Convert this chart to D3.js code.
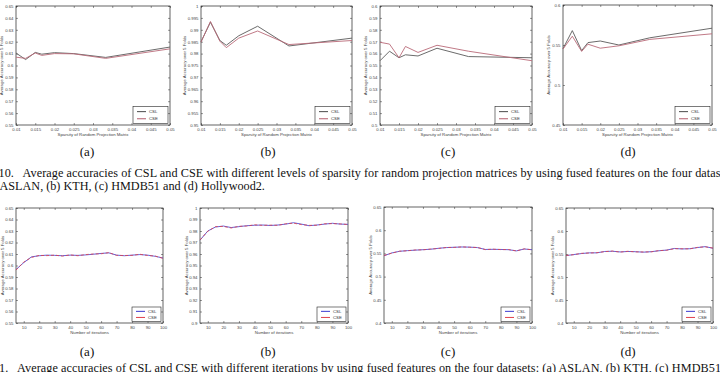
<!DOCTYPE html>
<html>
<head>
<meta charset="utf-8">
<script src="https://cdn.jsdelivr.net/npm/d3@7"></script>
<style>
  body { margin: 0; background: #fff; }
  svg { display: block; }
  .tick text { font-family: "Liberation Sans", Arial, sans-serif; fill: #444; }
</style>
</head>
<body>
<svg width="720" height="372"></svg>
<script>
// ---- data: sparsity experiments (top row) ----
let sparsity = [0.01, 0.0125, 0.015, 0.0167, 0.02, 0.025, 0.0333, 0.05];
let sparsityTicks = [0.01, 0.015, 0.02, 0.025, 0.03, 0.035, 0.04, 0.045, 0.05];

let aslanSparseCSL = [0.6105, 0.6050, 0.6110, 0.6095, 0.6108, 0.6100, 0.6068, 0.6155];
let aslanSparseCSE = [0.6070, 0.6060, 0.6105, 0.6085, 0.6100, 0.6098, 0.6060, 0.6140];
let kthSparseCSL = [0.9850, 0.9932, 0.9855, 0.9835, 0.9875, 0.9915, 0.9832, 0.9865];
let kthSparseCSE = [0.9848, 0.9935, 0.9852, 0.9825, 0.9865, 0.9895, 0.9838, 0.9855];
let hmdbSparseCSL = [0.5540, 0.5620, 0.5565, 0.5590, 0.5580, 0.5645, 0.5575, 0.5565];
let hmdbSparseCSE = [0.5695, 0.5680, 0.5565, 0.5660, 0.5610, 0.5670, 0.5620, 0.5540];
let hollySparseCSL = [0.5454, 0.5680, 0.5430, 0.5530, 0.5550, 0.5500, 0.5590, 0.5710];
let hollySparseCSE = [0.5450, 0.5610, 0.5420, 0.5510, 0.5460, 0.5490, 0.5570, 0.5640];

// ---- data: iteration experiments (bottom row) ----
let iterations = [5, 10, 15, 20, 25, 30, 35, 40, 45, 50, 55, 60, 65, 70, 75, 80, 85, 90, 95, 100];
let iterTicks = [10, 20, 30, 40, 50, 60, 70, 80, 90, 100];

let aslanIterCSL = [0.5965, 0.6025, 0.6075, 0.6085, 0.6090, 0.6088, 0.6085, 0.6090, 0.6088, 0.6092,
                    0.6098, 0.6105, 0.6110, 0.6090, 0.6085, 0.6090, 0.6095, 0.6090, 0.6080, 0.6065];
let aslanIterCSE = [0.5960, 0.6030, 0.6070, 0.6088, 0.6086, 0.6090, 0.6082, 0.6092, 0.6085, 0.6095,
                    0.6100, 0.6102, 0.6112, 0.6088, 0.6087, 0.6088, 0.6098, 0.6087, 0.6082, 0.6062];
let kthIterCSL = [0.9720, 0.9800, 0.9835, 0.9843, 0.9830, 0.9838, 0.9846, 0.9850, 0.9852, 0.9848,
                  0.9852, 0.9860, 0.9872, 0.9860, 0.9846, 0.9852, 0.9860, 0.9867, 0.9860, 0.9858];
let kthIterCSE = [0.9722, 0.9798, 0.9838, 0.9840, 0.9826, 0.9841, 0.9843, 0.9854, 0.9849, 0.9851,
                  0.9849, 0.9863, 0.9868, 0.9856, 0.9849, 0.9850, 0.9863, 0.9864, 0.9862, 0.9856];
let hmdbIterCSL = [0.5450, 0.5510, 0.5545, 0.5560, 0.5570, 0.5580, 0.5590, 0.5610, 0.5625, 0.5632,
                   0.5638, 0.5635, 0.5625, 0.5585, 0.5588, 0.5585, 0.5580, 0.5555, 0.5595, 0.5580];
let hmdbIterCSE = [0.5455, 0.5505, 0.5548, 0.5556, 0.5574, 0.5577, 0.5594, 0.5606, 0.5628, 0.5629,
                   0.5641, 0.5632, 0.5628, 0.5582, 0.5591, 0.5582, 0.5583, 0.5552, 0.5598, 0.5577];
let hollyIterCSL = [0.5465, 0.5488, 0.5510, 0.5525, 0.5525, 0.5555, 0.5560, 0.5545, 0.5555, 0.5550,
                    0.5540, 0.5550, 0.5570, 0.5585, 0.5620, 0.5610, 0.5615, 0.5640, 0.5660, 0.5625];
let hollyIterCSE = [0.5468, 0.5485, 0.5514, 0.5521, 0.5529, 0.5551, 0.5564, 0.5541, 0.5559, 0.5546,
                    0.5544, 0.5546, 0.5574, 0.5581, 0.5616, 0.5614, 0.5611, 0.5644, 0.5656, 0.5629];

let seriesNames = ["CSL", "CSE"];
let panelLetters = ["(a)", "(b)", "(c)", "(d)"];

let caption10a = "10.   Average accuracies of CSL and CSE with different levels of sparsity for random projection matrices by using fused features on the four datas";
let caption10b = "ASLAN, (b) KTH, (c) HMDB51 and (d) Hollywood2.";
let caption11 = "1.   Average accuracies of CSL and CSE with different iterations by using fused features on the four datasets: (a) ASLAN, (b) KTH, (c) HMDB51";

let svg = d3.select("svg");
let fmt = d3.format("~g");

function drawPanel(p) {
  let g = svg.append("g");
  let x = d3.scaleLinear().domain(p.xDomain).range([p.l, p.r]);
  let y = d3.scaleLinear().domain(p.yDomain).range([p.b, p.t]);

  let fs = p.fs;
  // axes with inward ticks, matlab box style
  g.append("g").attr("transform", "translate(0," + p.b + ")")
    .call(d3.axisBottom(x).tickValues(p.xTicks).tickFormat(fmt).tickSizeInner(-2).tickSizeOuter(0).tickPadding(2.5));
  g.append("g").attr("transform", "translate(" + p.l + ",0)")
    .call(d3.axisLeft(y).tickValues(p.yTicks).tickFormat(fmt).tickSizeInner(-2).tickSizeOuter(0).tickPadding(2.5));
  g.append("g").attr("transform", "translate(0," + p.t + ")")
    .call(d3.axisTop(x).tickValues(p.xTicks).tickFormat("").tickSizeInner(-2).tickSizeOuter(0));
  g.append("g").attr("transform", "translate(" + p.r + ",0)")
    .call(d3.axisRight(y).tickValues(p.yTicks).tickFormat("").tickSizeInner(-2).tickSizeOuter(0));
  g.selectAll(".domain").remove();
  g.selectAll(".tick line").attr("stroke", "#333").attr("stroke-width", 0.5);
  g.selectAll(".tick text").style("font-size", fs + "px");

  g.append("rect")
    .attr("x", p.l).attr("y", p.t)
    .attr("width", p.r - p.l).attr("height", p.b - p.t)
    .attr("fill", "none").attr("stroke", "#222").attr("stroke-width", 0.7);

  let line = d3.line().x((d, i) => x(p.xs[i])).y(d => y(d));
  p.series.forEach(s => {
    g.append("path")
      .datum(s.values)
      .attr("d", line)
      .attr("fill", "none")
      .attr("stroke", s.color)
      .attr("stroke-width", s.width)
      .attr("stroke-dasharray", s.dash || null);
  });

  // legend
  let lg = g.append("g");
  lg.append("rect")
    .attr("x", p.r - p.legW - 2).attr("y", p.b - p.legH - 1.5)
    .attr("width", p.legW).attr("height", p.legH)
    .attr("fill", "#fff").attr("stroke", "#222").attr("stroke-width", 0.6);
  p.series.forEach((s, i) => {
    let ly = p.b - p.legH - 1.5 + p.legH * (i === 0 ? 0.3 : 0.72);
    lg.append("line")
      .attr("x1", p.r - p.legW + 2).attr("x2", p.r - p.legW + 11)
      .attr("y1", ly).attr("y2", ly)
      .attr("stroke", s.color).attr("stroke-width", s.width + 0.2);
    lg.append("text")
      .attr("x", p.r - p.legW + 14).attr("y", ly + fs * 0.35)
      .style("font-family", "Liberation Sans, Arial, sans-serif")
      .style("font-size", fs + "px").attr("fill", "#333")
      .text(s.name);
  });

  // axis titles
  g.append("text")
    .attr("x", (p.l + p.r) / 2).attr("y", p.b + 11)
    .attr("text-anchor", "middle")
    .style("font-family", "Liberation Sans, Arial, sans-serif")
    .style("font-size", fs + "px").attr("fill", "#444")
    .text(p.xLabel);
  g.append("text")
    .attr("transform", "translate(" + (p.l - p.yLabelOff) + "," + ((p.t + p.b) / 2) + ") rotate(-90)")
    .attr("text-anchor", "middle")
    .style("font-family", "Liberation Sans, Arial, sans-serif")
    .style("font-size", fs + "px").attr("fill", "#444")
    .text("Average Accuracy over 5 Folds");

  // panel letter
  g.append("text")
    .attr("x", p.letterX).attr("y", p.letterY)
    .attr("text-anchor", "middle")
    .style("font-family", "Liberation Serif, Times New Roman, serif")
    .style("font-size", "13px").attr("fill", "#111")
    .text(p.letter);
}

let grayCSL = "#5a5a5a", redCSE = "#b96a78";
let blueCSL = "#3a3ad0", redIter = "#e0404a";

let topBoxes = [
  {l: 16, r: 170, t: 6, b: 125, yDomain: [0.55, 0.65], yTicks: d3.range(0.55, 0.6501, 0.01), csl: aslanSparseCSL, cse: aslanSparseCSE, yLabelOff: 13},
  {l: 201, r: 352, t: 6, b: 125, yDomain: [0.95, 1], yTicks: d3.range(0.95, 1.0001, 0.005), csl: kthSparseCSL, cse: kthSparseCSE, yLabelOff: 15},
  {l: 380, r: 532, t: 6, b: 125, yDomain: [0.5, 0.6], yTicks: d3.range(0.5, 0.6001, 0.01), csl: hmdbSparseCSL, cse: hmdbSparseCSE, yLabelOff: 13},
  {l: 563, r: 712, t: 5, b: 125, yDomain: [0.45, 0.6], yTicks: d3.range(0.45, 0.6001, 0.05), csl: hollySparseCSL, cse: hollySparseCSE, yLabelOff: 13}
];
let topLetterX = [87, 268, 448, 628];

topBoxes.forEach((b, i) => {
  drawPanel({
    l: b.l, r: b.r, t: b.t, b: b.b,
    xDomain: [0.01, 0.05], xTicks: sparsityTicks, xs: sparsity,
    yDomain: b.yDomain, yTicks: b.yTicks,
    fs: 4.3,
    series: [
      {name: seriesNames[0], values: b.csl, color: grayCSL, width: 0.9},
      {name: seriesNames[1], values: b.cse, color: redCSE, width: 0.9}
    ],
    legW: 35, legH: 17,
    xLabel: "Sparsity of Random Projection Matrix",
    yLabelOff: b.yLabelOff,
    letter: panelLetters[i], letterX: topLetterX[i], letterY: 156
  });
});

let bottomBoxes = [
  {l: 16, r: 163, t: 208, b: 323, yDomain: [0.55, 0.65], yTicks: d3.range(0.55, 0.6501, 0.01), csl: aslanIterCSL, cse: aslanIterCSE, yLabelOff: 12},
  {l: 200, r: 348, t: 208, b: 323, yDomain: [0.9, 1], yTicks: d3.range(0.9, 1.0001, 0.01), csl: kthIterCSL, cse: kthIterCSE, yLabelOff: 12},
  {l: 384, r: 532, t: 207, b: 323, yDomain: [0.4, 0.65], yTicks: d3.range(0.4, 0.6501, 0.05), csl: hmdbIterCSL, cse: hmdbIterCSE, yLabelOff: 12},
  {l: 566, r: 713, t: 208, b: 323, yDomain: [0.4, 0.65], yTicks: d3.range(0.4, 0.6501, 0.05), csl: hollyIterCSL, cse: hollyIterCSE, yLabelOff: 12}
];
let bottomLetterX = [87, 268, 448, 628];

bottomBoxes.forEach((b, i) => {
  drawPanel({
    l: b.l, r: b.r, t: b.t, b: b.b,
    xDomain: [5, 100], xTicks: iterTicks, xs: iterations,
    yDomain: b.yDomain, yTicks: b.yTicks,
    fs: 4.3,
    series: [
      {name: seriesNames[0], values: b.csl, color: blueCSL, width: 0.8},
      {name: seriesNames[1], values: b.cse, color: redIter, width: 0.8, dash: "3,2"}
    ],
    legW: 29, legH: 14.5,
    xLabel: "Number of iterations",
    yLabelOff: b.yLabelOff,
    letter: panelLetters[i], letterX: bottomLetterX[i], letterY: 356
  });
});

// captions (the figure is cropped at the page edges, as in the source)
let capStyle = sel => sel
  .style("font-family", "Liberation Serif, Times New Roman, serif")
  .style("font-size", "12.2px").attr("fill", "#111")
  .attr("xml:space", "preserve")
  .attr("lengthAdjust", "spacing");

svg.append("text").attr("x", -1.5).attr("y", 177).call(capStyle).attr("textLength", 722).text(caption10a);
svg.append("text").attr("x", -0.5).attr("y", 189.5).call(capStyle).text(caption10b);
svg.append("text").attr("x", -1).attr("y", 372).call(capStyle).attr("textLength", 722).text(caption11);
</script>
</body>
</html>
